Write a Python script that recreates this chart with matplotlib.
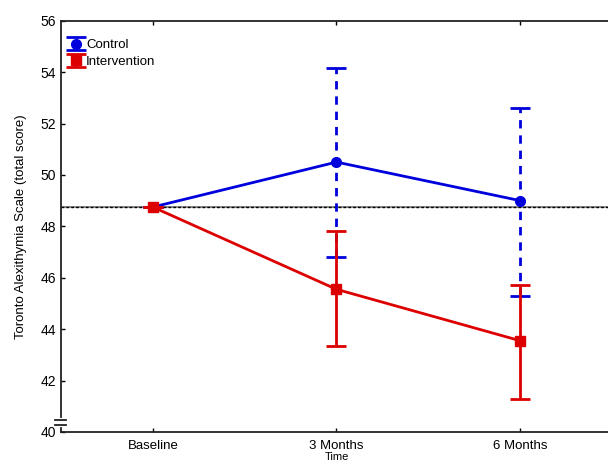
import numpy as np
import matplotlib.pyplot as plt

plt.rcParams['font.family'] = ['Liberation Sans', 'DejaVu Sans']

time_labels = ['Baseline', '3 Months', '6 Months']
control_mean = [48.75, 50.5, 49.0]
control_upper = [48.75, 54.15, 52.6]
control_lower = [48.75, 46.8, 45.3]
interv_mean = [48.75, 45.55, 43.55]
interv_upper = [48.75, 47.8, 45.7]
interv_lower = [48.75, 43.35, 41.3]
ref_level = 48.75

x = np.arange(len(time_labels))
c_err = [np.array(control_mean) - np.array(control_lower),
         np.array(control_upper) - np.array(control_mean)]
i_err = [np.array(interv_mean) - np.array(interv_lower),
         np.array(interv_upper) - np.array(interv_mean)]

fig = plt.figure(figsize=(6.08, 4.63), dpi=100)
ax = fig.add_axes([0.1003, 0.067, 0.9063, 0.8883])

# reference line at baseline level
ax.axhline(ref_level, color='#777777', lw=1.2, zorder=1)
ax.axhline(ref_level, color='black', lw=1.0, ls=(0, (2, 1.5)), zorder=1)

blue = '#0000dd'
red = '#dd0000'
cb = ax.errorbar(x, control_mean, yerr=c_err, color=blue, marker='o', ms=7,
                 lw=2, elinewidth=2, capsize=7, capthick=2, label='Control', zorder=3)
cb[2][0].set_linestyle((0, (3, 2.5)))
ax.errorbar(x, interv_mean, yerr=i_err, color=red, marker='s', ms=7,
            lw=2, elinewidth=2, capsize=7, capthick=2, label='Intervention', zorder=4)

ax.set_xlim(-0.5, 2.5)
ax.set_ylim(40, 56)
ax.set_yticks(np.arange(40, 57, 2))
ax.set_xticks(x)
ax.set_xticklabels(time_labels)
ax.tick_params(axis='both', direction='in', length=3, labelsize=10, top=True,
               width=1)
ax.tick_params(axis='x', pad=6, labelsize=9.5)
for s in ax.spines.values():
    s.set_linewidth(1.3)
    s.set_color('#222222')

ax.set_ylabel('Toronto Alexithymia Scale (total score)', fontsize=9.5, labelpad=10)
ax.set_xlabel('Time', fontsize=8, labelpad=0)

# axis break marks near the bottom of the y axis
ax.plot([-0.5, -0.5], [40.28, 40.48], color='white', lw=3, clip_on=False, zorder=5)
ax.plot([-0.535, -0.47], [40.48, 40.48], color='#222222', lw=1.3, clip_on=False, zorder=6)
ax.plot([-0.535, -0.47], [40.28, 40.28], color='#222222', lw=1.3, clip_on=False, zorder=6)

leg = ax.legend(loc='upper left', fontsize=9.5, frameon=False, handlelength=0.6,
                handletextpad=0.5, borderaxespad=0.2, labelspacing=0.35,
                bbox_to_anchor=(0.005, 0.975))

fig.savefig('out.png', dpi=100)
